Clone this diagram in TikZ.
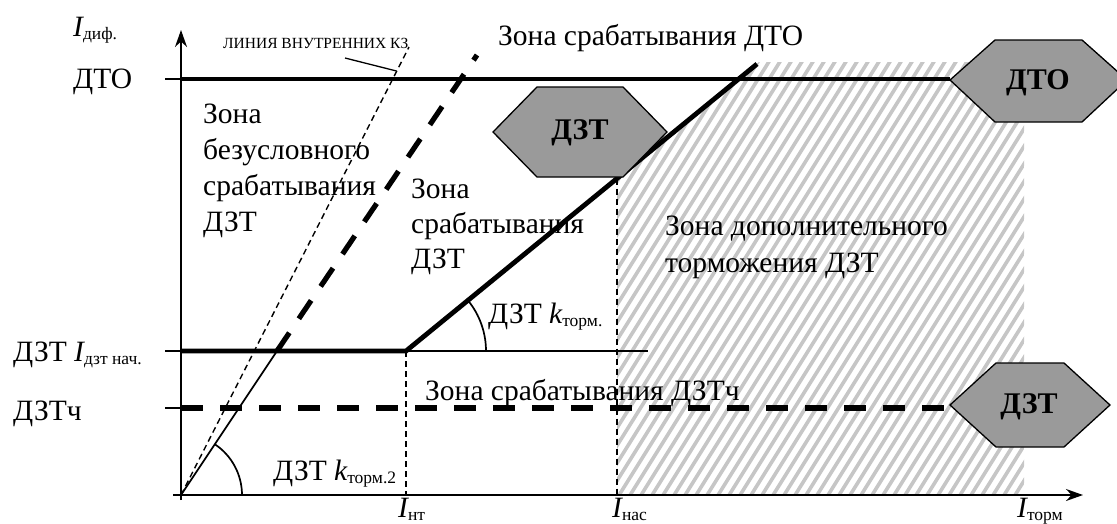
\documentclass[tikz,border=0pt]{standalone}
\usepackage{fontspec}
\setmainfont{Liberation Serif}
\usetikzlibrary{arrows.meta}
\definecolor{hexgray}{RGB}{154,154,154}
\definecolor{hatchgray}{RGB}{198,198,198}
\newcommand\fsz[1]{\fontsize{#1}{#1}\selectfont}
\newcommand\Isb[2]{{\itshape #1}\raisebox{-3.5pt}{\fsz{17.5}#2}}
\begin{document}
\begin{tikzpicture}[x=1pt,y=-1pt,
  txt/.style={inner sep=0pt,anchor=base west,font=\fsz{29.5}},
  smalltxt/.style={inner sep=0pt,anchor=base west,font=\fsz{15.5}},
  hextxt/.style={inner sep=0pt,font=\fsz{30}\bfseries},
  thinln/.style={line width=1.7pt},
  thickln/.style={line width=4.8pt},
  thickdash/.style={line width=5.2pt,dash pattern=on 22pt off 17pt},
  thindash/.style={line width=1.4pt,dash pattern=on 6pt off 4pt},
  hexshape/.style={fill=hexgray,draw=black,line width=1.3pt,line join=miter},
  hatchline/.style={draw=hatchgray,line width=3.6pt},
  axisarrow/.style={-{Stealth[length=17pt,width=12pt]},line width=1.7pt}
]
\useasboundingbox (0,0) rectangle (1117,523);

% key points of the characteristic
\coordinate (O) at (181,495);
\coordinate (knee) at (406,351);
\coordinate (slopeTop) at (757,64);
\coordinate (nasTop) at (617,178.5);
\coordinate (nasBot) at (617,495);
\coordinate (ntBot) at (406,495);
\coordinate (cross) at (277,351);
\coordinate (dtoZoneTop) at (477,55);
\coordinate (kzTop) at (409,47);
\coordinate (kzLead) at (396.5,71);

% hatched zone of additional restraint
\begin{scope}
  \clip (617,495) -- (nasTop) -- (759,62) -- (1024,62) -- (1024,495) -- cycle;
  \foreach \i in {0,...,66}
    \draw[hatchline] ({330+\i*11},500) -- ++(280,-448);
\end{scope}

% axes
\draw[axisarrow] (181,500) -- (181,30);
\draw[axisarrow] (173,495) -- (1083,495);

% ticks on the vertical axis
\draw[thinln] (165,79) -- (181,79);
\draw[thinln] (165,351) -- (181,351);
\draw[thinln] (165,408) -- (181,408);

% internal fault line and its label
\draw[thindash] (O) -- (kzTop);
\node[smalltxt] (kzlbl) at (223,48) {ЛИНИЯ ВНУТРЕННИХ КЗ};
\draw[line width=1.3pt] (345,58) -- (kzLead);

% unconditional trip boundary
\draw[thinln] (O) -- (cross);
\draw[thickdash] (cross) -- (dtoZoneTop);
\draw[thinln] (242,495) arc[start angle=0,end angle=-56.3,radius=61];

% restraint characteristic
\draw[thickln] (181,351) -- (knee) -- (slopeTop);
\draw[thinln] (knee) -- (648,351);
\draw[thinln] (486,351) arc[start angle=0,end angle=-39.3,radius=80];
\draw[thindash] (knee) -- (ntBot);
\draw[thindash] (nasTop) -- (nasBot);

% DTO level and sensitive stage level
\draw[thickln] (181,79) -- (950,79);
\draw[thickdash] (181,408) -- (950,408);

% hexagon markers
\draw[hexshape] (493,132) -- (537,87) -- (623,87) -- (667,132) -- (623,177) -- (537,177) -- cycle;
\node[hextxt] (hexA) at (580,133) {ДЗТ};
\draw[hexshape] (950,80) -- (995,40) -- (1082,40) -- (1127,80) -- (1082,122) -- (995,122) -- cycle;
\node[hextxt] (hexB) at (1038,83) {ДТО};
\draw[hexshape] (950,405) -- (996,363) -- (1064,363) -- (1110,405) -- (1064,447) -- (996,447) -- cycle;
\node[hextxt] (hexC) at (1029,407) {ДЗТ};

% axis labels
\node[txt] (ydif) at (73,36) {\Isb{I}{диф.}};
\node[txt] (ydto) at (73,88) {ДТО};
\node[txt] (ydzt) at (13,361) {ДЗТ \Isb{I}{дзт нач.}};
\node[txt] (ydztch) at (13,420) {ДЗТч};
\node[txt] (xnt) at (398,517) {\Isb{I}{нт}};
\node[txt] (xnas) at (612,517) {\Isb{I}{нас}};
\node[txt] (xtorm) at (1017,517) {\Isb{I}{торм}};

% zone captions
\node[txt] (zdto) at (498,45) {Зона срабатывания ДТО};
\node[txt] (zu1) at (203,123) {Зона};
\node[txt] (zu2) at (203,159) {безусловного};
\node[txt] (zu3) at (203,195) {срабатывания};
\node[txt] (zu4) at (203,231) {ДЗТ};
\node[txt] (zs1) at (411,198) {Зона};
\node[txt] (zs2) at (411,233) {срабатывания};
\node[txt] (zs3) at (411,268) {ДЗТ};
\node[txt] (zd1) at (665,235) {Зона дополнительного};
\node[txt] (zd2) at (665,272) {торможения ДЗТ};
\node[txt] (zch) at (425,400) {Зона срабатывания ДЗТч};
\node[txt] (kt1) at (488,323) {ДЗТ \Isb{k}{торм.}};
\node[txt] (kt2) at (273,480) {ДЗТ \Isb{k}{торм.2}};
\end{tikzpicture}
\end{document}
